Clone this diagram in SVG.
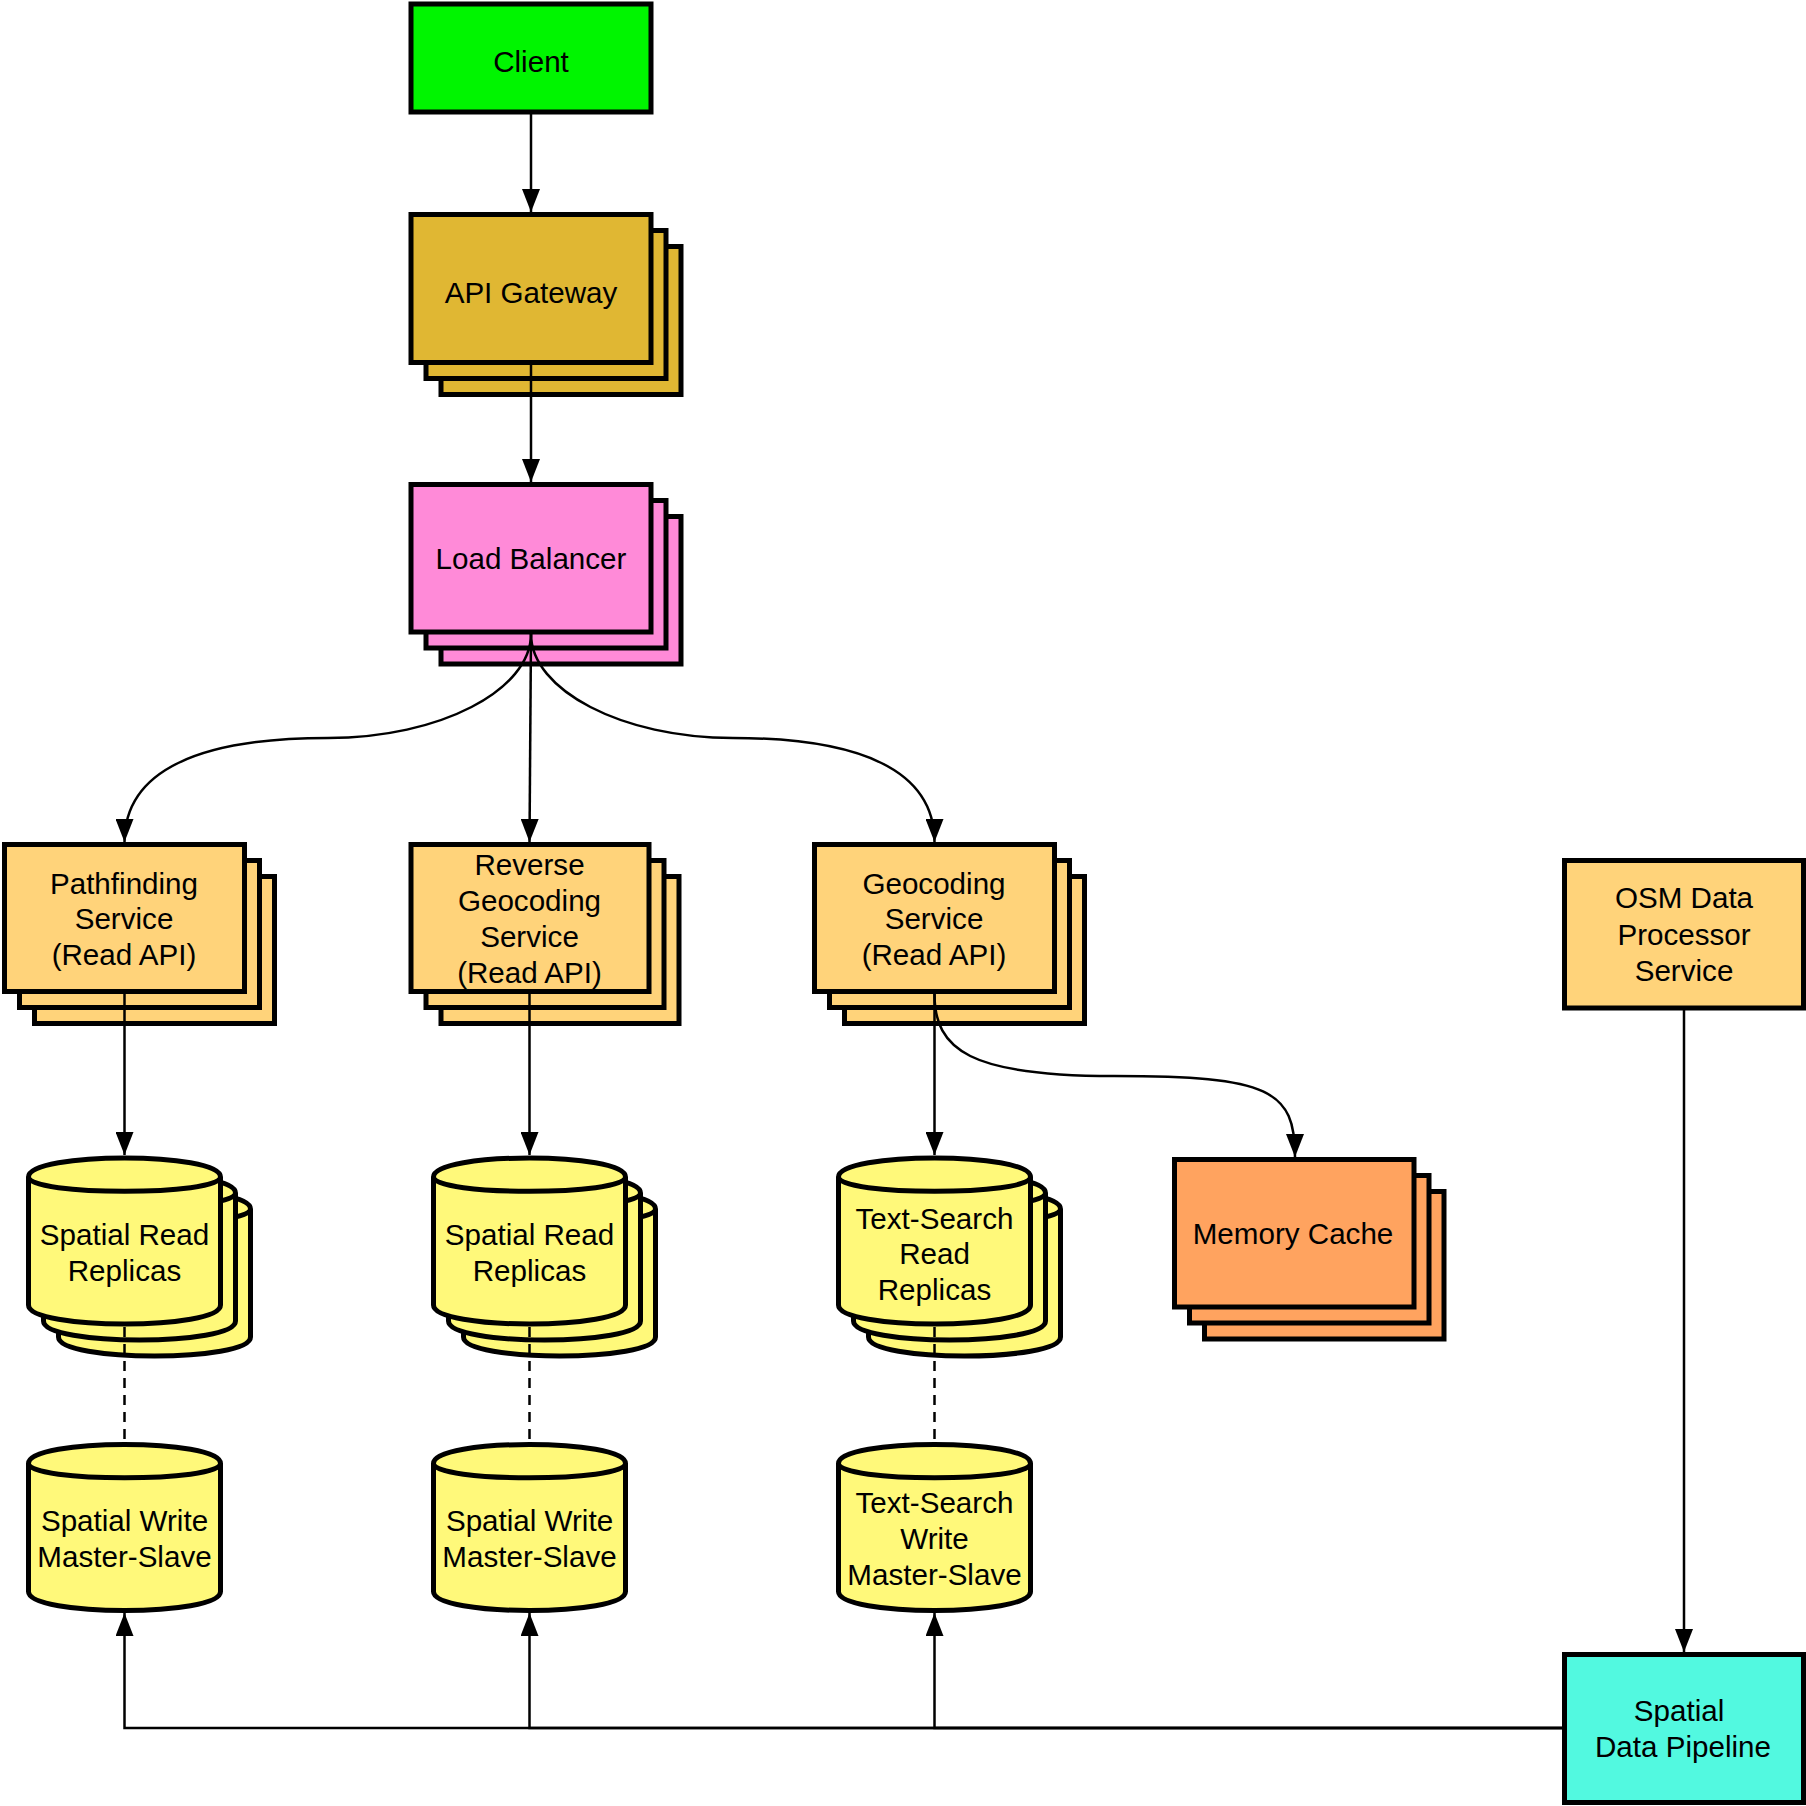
<svg xmlns="http://www.w3.org/2000/svg" xmlns:xlink="http://www.w3.org/1999/xlink" width="1806" height="1806" viewBox="0 0 1806 1806">
<style>
.n{stroke:#000;stroke-width:5}
.t{font-family:"Liberation Sans",Arial,sans-serif;font-size:29.6px;text-anchor:middle;fill:#000}
.c{fill:none;stroke:#000;stroke-width:2.5}
.d{fill:none;stroke:#000;stroke-width:2.5;stroke-dasharray:10 7}
.client{fill:#00F500}
.api{fill:#E0B733}
.lb{fill:#FF8AD8}
.svc{fill:#FFD37A}
.mem{fill:#FFA35F}
.db{fill:#FFF97A}
.pipe{fill:#52F9E0}
</style>
<defs>
<marker id="arr" markerWidth="24" markerHeight="18" refX="23" refY="9" orient="auto" markerUnits="userSpaceOnUse">
<path d="M0,0 L23,9 L0,18 Z" fill="#000"/>
</marker>
<g id="cyl">
<path d="M0,19 C0,-6.33 192,-6.33 192,19 L192,147 C192,172.33 0,172.33 0,147 Z"/>
<path d="M0,19 C0,38 192,38 192,19" fill="none"/>
</g>
</defs>

<g id="client">
<rect class="n client" x="411" y="4" width="240" height="108"/>
<text class="t" x="531" y="71.7">Client</text>
</g>

<g id="api-gateway">
<rect class="n api" x="441" y="246.5" width="240" height="148"/>
<rect class="n api" x="426" y="230.5" width="240" height="148"/>
<rect class="n api" x="411" y="214.5" width="240" height="148"/>
<text class="t" x="531" y="303.3">API Gateway</text>
</g>

<g id="load-balancer">
<rect class="n lb" x="441" y="516.5" width="240" height="147.5"/>
<rect class="n lb" x="426" y="500.5" width="240" height="147.5"/>
<rect class="n lb" x="411" y="484.5" width="240" height="147.5"/>
<text class="t" x="531" y="569.3">Load Balancer</text>
</g>

<g id="pathfinding">
<rect class="n svc" x="34.5" y="876.5" width="240" height="147"/>
<rect class="n svc" x="19.5" y="860.5" width="240" height="147"/>
<rect class="n svc" x="4.5" y="844.5" width="240" height="147"/>
<text class="t" x="124" y="893.5">Pathfinding</text>
<text class="t" x="124" y="929">Service</text>
<text class="t" x="124" y="964.5">(Read API)</text>
</g>

<g id="reverse-geocoding">
<rect class="n svc" x="441" y="876.5" width="238" height="147"/>
<rect class="n svc" x="426" y="860.5" width="238" height="147"/>
<rect class="n svc" x="411" y="844.5" width="238" height="147"/>
<text class="t" x="529.5" y="875">Reverse</text>
<text class="t" x="529.5" y="911">Geocoding</text>
<text class="t" x="529.5" y="947">Service</text>
<text class="t" x="529.5" y="983">(Read API)</text>
</g>

<g id="geocoding">
<rect class="n svc" x="844.5" y="876.5" width="240" height="147"/>
<rect class="n svc" x="829.5" y="860.5" width="240" height="147"/>
<rect class="n svc" x="814.5" y="844.5" width="240" height="147"/>
<text class="t" x="934" y="893.5">Geocoding</text>
<text class="t" x="934" y="929">Service</text>
<text class="t" x="934" y="964.5">(Read API)</text>
</g>

<g id="osm-processor">
<rect class="n svc" x="1564.5" y="860.5" width="239" height="147.5"/>
<text class="t" x="1684" y="908.3">OSM Data</text>
<text class="t" x="1684" y="944.5">Processor</text>
<text class="t" x="1684" y="980.5">Service</text>
</g>

<g id="memory-cache">
<rect class="n mem" x="1204.5" y="1191.5" width="239.5" height="147.5"/>
<rect class="n mem" x="1189.5" y="1175.5" width="239.5" height="147.5"/>
<rect class="n mem" x="1174.5" y="1159.5" width="239.5" height="147.5"/>
<text class="t" x="1293" y="1244">Memory Cache</text>
</g>

<g id="spatial-read-replicas-1">
<use xlink:href="#cyl" class="n db" x="58.5" y="1190"/>
<use xlink:href="#cyl" class="n db" x="43.5" y="1174"/>
<use xlink:href="#cyl" class="n db" x="28.5" y="1158"/>
<text class="t" x="124.5" y="1245">Spatial Read</text>
<text class="t" x="124.5" y="1281">Replicas</text>
</g>

<g id="spatial-read-replicas-2">
<use xlink:href="#cyl" class="n db" x="463.5" y="1190"/>
<use xlink:href="#cyl" class="n db" x="448.5" y="1174"/>
<use xlink:href="#cyl" class="n db" x="433.5" y="1158"/>
<text class="t" x="529.5" y="1245">Spatial Read</text>
<text class="t" x="529.5" y="1281">Replicas</text>
</g>

<g id="text-search-read-replicas">
<use xlink:href="#cyl" class="n db" x="868.5" y="1190"/>
<use xlink:href="#cyl" class="n db" x="853.5" y="1174"/>
<use xlink:href="#cyl" class="n db" x="838.5" y="1158"/>
<text class="t" x="934.5" y="1228.5">Text-Search</text>
<text class="t" x="934.5" y="1264">Read</text>
<text class="t" x="934.5" y="1299.5">Replicas</text>
</g>

<g id="spatial-write-1">
<use xlink:href="#cyl" class="n db" x="28.5" y="1444.5"/>
<text class="t" x="124.5" y="1531">Spatial Write</text>
<text class="t" x="124.5" y="1567">Master-Slave</text>
</g>

<g id="spatial-write-2">
<use xlink:href="#cyl" class="n db" x="433.5" y="1444.5"/>
<text class="t" x="529.5" y="1531">Spatial Write</text>
<text class="t" x="529.5" y="1567">Master-Slave</text>
</g>

<g id="text-search-write">
<use xlink:href="#cyl" class="n db" x="838.5" y="1444.5"/>
<text class="t" x="934.5" y="1512.5">Text-Search</text>
<text class="t" x="934.5" y="1548.5">Write</text>
<text class="t" x="934.5" y="1584.5">Master-Slave</text>
</g>

<g id="spatial-data-pipeline">
<rect class="n pipe" x="1564.5" y="1654.5" width="239" height="148"/>
<text class="t" x="1679" y="1720.7">Spatial</text>
<text class="t" x="1683" y="1756.7">Data Pipeline</text>
</g>

<g id="connectors">
<path class="c" d="M531,114 L531,212" marker-end="url(#arr)"/>
<path class="c" d="M531,365 L531,482" marker-end="url(#arr)"/>
<path class="c" d="M531,634 C531,690 440,738 328,738 C200,738 124.5,770 124.5,842" marker-end="url(#arr)"/>
<path class="c" d="M531,634 L529.5,842" marker-end="url(#arr)"/>
<path class="c" d="M531,634 C531,690 622,738 733,738 C860,738 934.5,770 934.5,842" marker-end="url(#arr)"/>
<path class="c" d="M124.5,994 L124.5,1155" marker-end="url(#arr)"/>
<path class="c" d="M529.5,994 L529.5,1155" marker-end="url(#arr)"/>
<path class="c" d="M934.5,994 L934.5,1155" marker-end="url(#arr)"/>
<path class="c" d="M934.5,994 C934.5,1050 970,1076 1114,1076 C1270,1076 1295,1090 1295,1157" marker-end="url(#arr)"/>
<path class="d" d="M124.5,1327 L124.5,1442"/>
<path class="d" d="M529.5,1327 L529.5,1442"/>
<path class="d" d="M934.5,1327 L934.5,1442"/>
<path class="c" d="M1684,1010 L1684,1652" marker-end="url(#arr)"/>
<path class="c" d="M1562,1728 L124.5,1728 L124.5,1613" marker-end="url(#arr)"/>
<path class="c" d="M1562,1728 L529.5,1728 L529.5,1613" marker-end="url(#arr)"/>
<path class="c" d="M1562,1728 L934.5,1728 L934.5,1613" marker-end="url(#arr)"/>
</g>
</svg>
